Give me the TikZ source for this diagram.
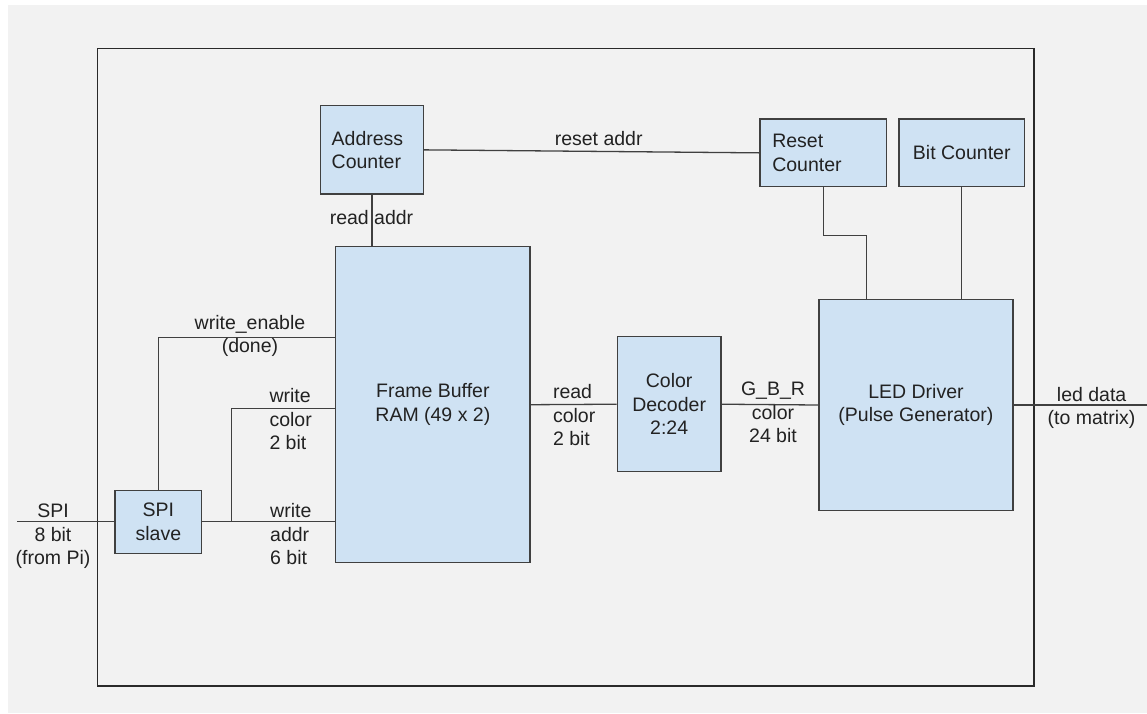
\documentclass[tikz,border=0pt]{standalone}
\usepackage{fontspec}
\setmainfont{Liberation Sans}
\definecolor{bggray}{HTML}{F2F2F2}
\definecolor{boxblue}{HTML}{CFE2F3}
\definecolor{edgegray}{HTML}{404040}
\definecolor{outergray}{HTML}{2A2A2A}
\definecolor{txt}{HTML}{222222}
\begin{document}
\begin{tikzpicture}[x=1pt,y=-1pt,
  every node/.style={font=\fontsize{19.5}{23.5}\selectfont, text=txt},
  blk/.style={draw=edgegray, fill=boxblue, line width=1.4pt, inner sep=0pt, align=center},
  wire/.style={draw=edgegray, line width=1.3pt},
  lbl/.style={inner sep=0pt, align=center},
  lbll/.style={inner sep=0pt, align=left, anchor=west}]
\useasboundingbox (0,0) rectangle (1147,713);
\fill[white] (0,0) rectangle (1147,713);
\fill[bggray] (8,5) rectangle (1147,713);
\draw[draw=outergray, line width=1.8pt] (97.5,48.5) rectangle (1034.3,686);

% blocks
\node[blk, text width=80.6pt, inner xsep=11pt, align=left, minimum height=88.3pt] (ac) at (372,149.85) {Address\\Counter};
\node[blk, text width=102pt, inner xsep=12.3pt, align=left, minimum height=67.7pt] (rc) at (823.3,152.85) {Reset\\Counter};
\node[blk, minimum width=125.5pt, minimum height=67.7pt] (bc) at (961.75,152.85) {Bit Counter};
\node[blk, minimum width=194.3pt, minimum height=316pt] (ram) at (432.85,404.7) {Frame Buffer\\RAM (49 x 2)};
\node[blk, minimum width=103.9pt, minimum height=135pt] (cd) at (669.15,404.2) {Color\\Decoder\\2:24};
\node[blk, minimum width=193.9pt, minimum height=211.4pt] (led) at (915.95,405) {LED Driver\\(Pulse Generator)};
\node[blk, minimum width=86.7pt, minimum height=63pt] (spi) at (158.35,521.8) {SPI\\slave};

% helper coordinates
\coordinate (spiin) at (17.3,521.8);
\coordinate (ledout) at (1147,405);
\coordinate (weY) at (0,337.3);
\coordinate (wcY) at (0,408.7);
\coordinate (brX) at (231.7,0);
\coordinate (rcbend) at (866.4,235.3);

% wires
\draw[wire] (ac.south) -- (ac.south |- ram.north);
\draw[wire] (ac.east) -- (rc.west);
\draw[wire] (rc.south) |- (rcbend) -- (rcbend |- led.north);
\draw[wire] (bc.south) -- (bc.south |- led.north);
\draw[wire] (spi.north) |- (ram.west |- weY);
\draw[wire] (spiin) -- (spi.west);
\draw[wire] (spi.east) -- (ram.west |- spi.east);
\draw[wire] (brX |- spi.east) |- (ram.west |- wcY);
\draw[wire] (ram.east) -- (cd.west);
\draw[wire] (cd.east) -- (led.west);
\draw[wire] (led.east) -- (ledout);

% labels
\node[lbl] (lra) at (371.5,218) {read addr};
\node[lbl] (lrs) at (598.7,139) {reset addr};
\node[lbl] (lwe) at (250,336) {write\_enable\\(done)};
\node[lbll] (lwc) at (269.3,419.3) {write\\color\\2 bit};
\node[lbll] (lwa) at (270,534.3) {write\\addr\\6 bit};
\node[lbl] (lspi) at (53,536.3) {SPI\\8 bit\\(from Pi)};
\node[lbll] (lrc) at (552.8,415.4) {read\\color\\2 bit};
\node[lbl] (lgbr) at (773,412.6) {G\_B\_R\\color\\24 bit};
\node[lbl] (lled) at (1091.6,407.9) {led data\\(to matrix)};
\end{tikzpicture}
\end{document}
